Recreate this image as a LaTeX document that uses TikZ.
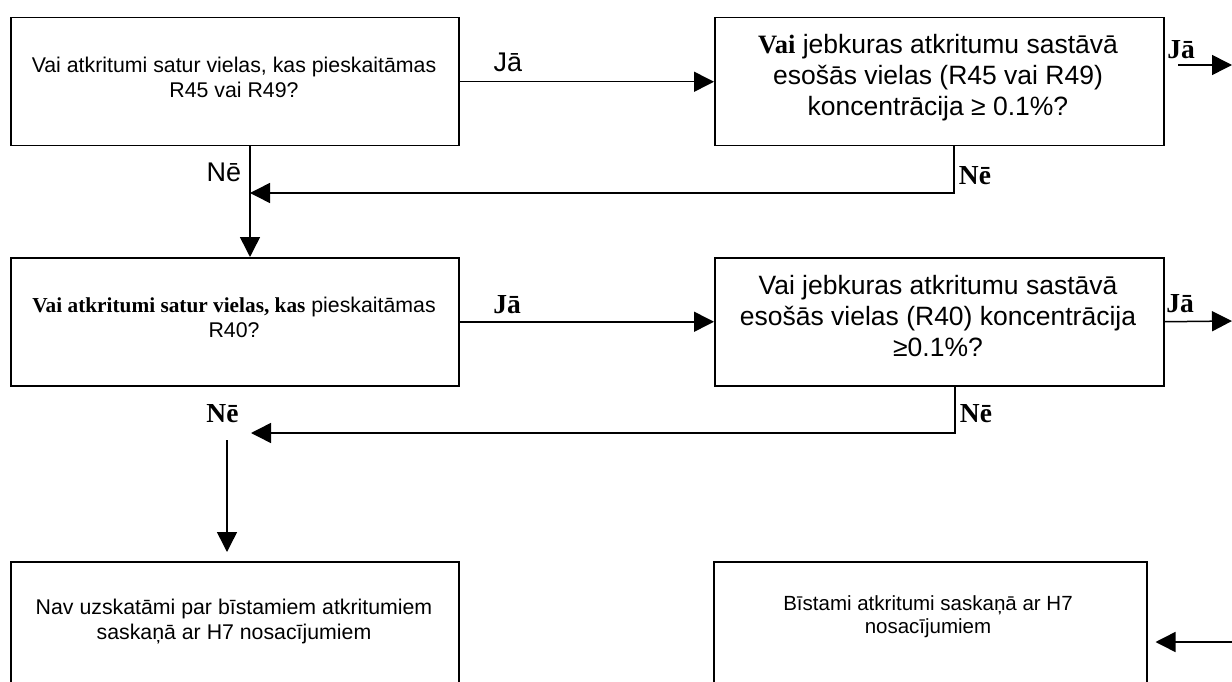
\documentclass[tikz,border=0pt]{standalone}
\usepackage{fontspec}
\setmainfont{Liberation Sans}
\newfontfamily\tnr{Liberation Serif}
\usetikzlibrary{arrows.meta}

\begin{document}
\begin{tikzpicture}[x=1pt,y=-1pt,
  box/.style={draw, line width=1.5pt, anchor=north west, inner sep=0pt},
  flow/.style={line width=1.5pt, -{Triangle[length=20pt,width=20pt]}},
  qa/.style={font=\fontsize{21.3}{24.5}\selectfont, align=center, inner sep=0pt},
  qb/.style={font=\fontsize{26.5}{31}\selectfont, align=center, inner sep=0pt},
  lblsans/.style={font=\fontsize{27}{28}\selectfont, inner sep=0pt},
  lblser/.style={font=\fontsize{27.5}{28}\selectfont\tnr\bfseries, inner sep=0pt},
]
\useasboundingbox (0,0) rectangle (1232,682);
\clip (0,0) rectangle (1232,682);

% boxes
\node[box, minimum width=448pt, minimum height=128pt] (A) at (10,17) {};
\node[box, minimum width=449pt, minimum height=128pt] (B) at (714,17) {};
\node[box, minimum width=448pt, minimum height=128pt] (C) at (10,257) {};
\node[box, minimum width=449pt, minimum height=128pt] (D) at (714,257) {};
\node[box, minimum width=448pt, minimum height=200pt] (E) at (10,561) {};
\node[box, minimum width=433pt, minimum height=200pt] (F) at (713,561) {};

% box texts
\node[qa] (tA) at (234,77.5) {Vai atkritumi satur vielas, kas pieskaitāmas\\R45 vai R49?};
\node[qb] (tB) at (938,78) {{\tnr\bfseries Vai} jebkuras atkritumu sastāvā\\esošās vielas (R45 vai R49)\\koncentrācija ≥ 0.1\%?};
\node[qa] (tC) at (234,317.5) {{\tnr\bfseries Vai atkritumi satur vielas, kas} pieskaitāmas\\R40?};
\node[qb] (tD) at (938,316) {Vai jebkuras atkritumu sastāvā\\esošās vielas (R40) koncentrācija\\≥0.1\%?};
\node[qa] (tE) at (234,621.5) {Nav uzskatāmi par bīstamiem atkritumiem\\saskaņā ar H7 nosacījumiem};
\node[qa, font=\fontsize{20.5}{23.5}\selectfont] (tF) at (928,616.5) {Bīstami atkritumi saskaņā ar H7\\nosacījumiem};

% junction and free-end points
\coordinate (j1) at (250,193);
\coordinate (bn) at (954,193);
\coordinate (j2) at (251,433);
\coordinate (dn) at (955,433);
\coordinate (ev) at (227,440);
\coordinate (bjs) at (1178,65);
\coordinate (bje) at (1232,65);
\coordinate (dje) at (1232,321);
\coordinate (fin) at (1232,642);

% first row: R45 / R49
\draw[flow] (A.east) -- (B.west);
\node[lblsans] (l1) at (508,62) {Jā};
\draw[flow] (bjs) -- (bje);
\node[lblser] (l2) at (1181,50) {Jā};
\draw[flow] (B.south -| bn) |- (j1);
\node[lblser] (l3) at (975,176) {Nē};
\draw[flow] (A.south -| j1) -- (C.north -| j1);
\node[lblsans] (l4) at (224,172) {Nē};

% second row: R40
\draw[flow] (C.east) -- (D.west);
\node[lblser] (l5) at (507,305) {Jā};
\draw[flow] (D.east) -- (dje);
\node[lblser] (l6) at (1180,304) {Jā};
\draw[flow] (D.south -| dn) |- (j2);
\node[lblser] (l7) at (976,414) {Nē};
\node[lblser] (l8) at (222.5,414) {Nē};

% results
\draw[flow, shorten >=9pt] (ev) -- (E.north -| ev);
\draw[flow, shorten >=8pt] (fin) -- (F.east |- fin);
\end{tikzpicture}
\end{document}
